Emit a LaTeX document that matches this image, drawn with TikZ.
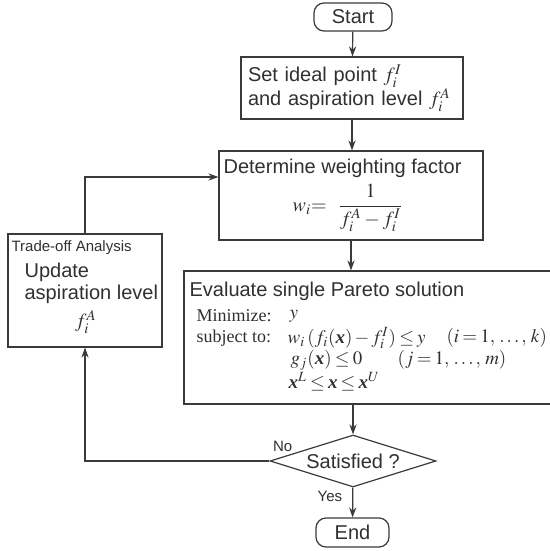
\documentclass[tikz,border=0pt]{standalone}
\usepackage{amsmath}
\usepackage{mathptmx}
\usepackage[no-math]{fontspec}
\setmainfont{Liberation Sans}
\newfontfamily\serifrm{Liberation Serif}
\usetikzlibrary{arrows.meta,positioning,shapes.geometric}
\definecolor{linecol}{HTML}{3A3A3A}
\definecolor{textcol}{HTML}{303030}
\newcommand{\vx}{\mbox{\serifrm\bfseries\itshape x}}
\newcommand{\tightmu}{\thickmuskip=3mu\relax\medmuskip=2mu\relax}
\tikzset{
  flowbox/.style={draw=linecol, rectangle, inner sep=0pt},
  terminal/.style={draw=linecol, rectangle, rounded corners=5pt, inner sep=0pt},
  decision/.style={draw=linecol, diamond, aspect=3.2, inner sep=0pt,
    minimum width=83pt, minimum height=26pt},
  mathline/.style={anchor=west, inner sep=0pt,
    font=\serifrm\fontsize{9.5}{11}\selectfont\tightmu},
  seriflabel/.style={anchor=west, inner sep=0pt, font=\serifrm\fontsize{9}{11}\selectfont},
  smalltext/.style={inner sep=0pt, font=\fontsize{7.5}{9}\selectfont},
  flow/.style={draw=linecol, ->}
}

\begin{document}
\begin{tikzpicture}[x=0.5pt, y=-0.5pt, line width=0.6pt,
  >={Stealth[length=5pt,width=3.6pt]},
  every node/.style={text=textcol}, font=\fontsize{10}{12}\selectfont]
  \useasboundingbox (0,0) rectangle (550,551);
  % main column
  \node[terminal, minimum width=39pt, minimum height=14pt] (start) at (353,17) {Start};
  \node[flowbox, minimum width=111pt, minimum height=31pt, text width=104pt, inner xsep=3.5pt,
    align=left] (ideal) at (352,88) {Set ideal point $f_i^I$\\ and aspiration level $f_i^A$};
  \node[flowbox, minimum width=132pt, minimum height=44.5pt] (weight) at (351,195.5) {};
  \node[anchor=north west, inner sep=0pt] (weighttitle) at (223,158) {Determine weighting factor};
  \node[inner sep=0pt] (weightformula) at (348,208) {$w_i{=}\ \ \dfrac{1}{f_i^A - f_i^I}$};
  \node[flowbox, minimum width=183.5pt, minimum height=66.5pt] (pareto) at (367.5,337.5) {};
  \node[anchor=west, inner sep=0pt] (paretotitle) at (189,291) {Evaluate single Pareto solution};
  \node[seriflabel] (minlabel) at (196,316) {Minimize:};
  \node[mathline] (minterm) at (289,316) {$y$};
  \node[seriflabel] (subjlabel) at (196,338) {subject to:};
  \node[mathline] (subjterm) at (287,338) {$w_i\,(f_i(\vx)-f_i^I)\le y$};
  \node[mathline] (subjrange) at (446,338) {$(i=1,\, \ldots,\, k)$};
  \node[mathline] (gterm) at (290,360) {$g_j(\vx)\le 0$};
  \node[mathline] (grange) at (397,360) {$(j=1,\, \ldots,\, m)$};
  \node[mathline] (boundterm) at (288,382) {$\vx^L\le\vx\le\vx^U$};
  \node[decision] (check) at (353,461) {Satisfied ?};
  \node[terminal, minimum width=36.5pt, minimum height=14.5pt] (end) at (352.5,532.5) {End};
  % trade-off loop
  \node[flowbox, minimum width=77pt, minimum height=56.5pt] (trade) at (85,290.5) {};
  \node[smalltext, anchor=north west] (tradetitle) at (11,240) {Trade-off Analysis};
  \node[anchor=north west, align=left, inner sep=0pt, font=\fontsize{10}{11}\selectfont]
    (tradetext) at (24,262) {Update\\aspiration level};
  \node[inner sep=0pt] (tradef) at (86,322) {$f_i^A$};
  % connectors
  \draw[flow] (start) -- (ideal);
  \draw[flow] (ideal.south) -- (ideal.south |- weight.north);
  \draw[flow] (weight.south) -- (weight.south |- pareto.north);
  \draw[flow] (check.north |- pareto.south) -- (check.north);
  \draw[flow] (check) -- (end) node[smalltext, pos=0.3, left=5pt] {Yes};
  \draw[flow] (check.west) -| (trade.south)
    node[smalltext, pos=0, anchor=south west, xshift=1.5pt, yshift=4.5pt] {No};
  \draw[flow] (trade.north) |- ([yshift=9.25pt]weight.west);
\end{tikzpicture}
\end{document}
